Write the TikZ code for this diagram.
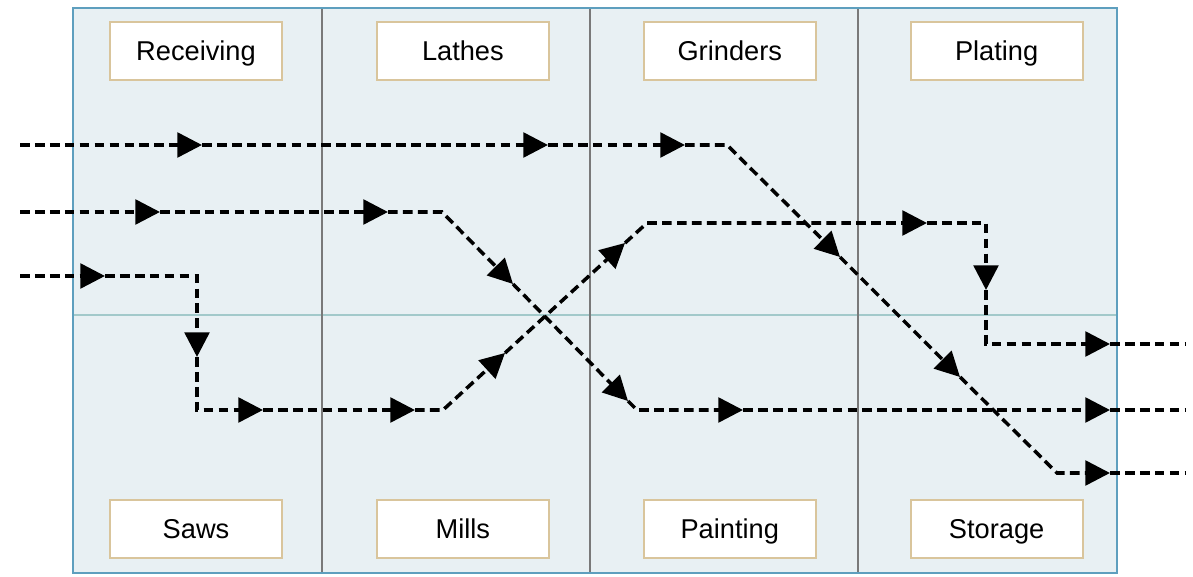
\documentclass[tikz,border=0pt]{standalone}
\usepackage{fontspec}
\setmainfont{Liberation Sans}
\usetikzlibrary{positioning,arrows.meta}
\definecolor{cellbg}{HTML}{E8F0F3}
\definecolor{frameblue}{HTML}{5E9FBE}
\definecolor{splitteal}{HTML}{A2C9CA}
\definecolor{boxtan}{HTML}{D9C59C}
\begin{document}
\begin{tikzpicture}[
  x=0.02cm, y=-0.02cm,
  font=\fontsize{15.5}{18}\selectfont,
  node distance=8.36cm and 1.86cm,
  dept/.style={rectangle, draw=boxtan, line width=1.1pt, fill=white, inner sep=0pt,
               minimum width=3.44cm, minimum height=1.16cm,
               text height=11pt, text depth=0pt},
  cellrule/.style={draw=gray!95!black, line width=0.9pt},
  route/.style={line width=2pt, dash pattern=on 5.5pt off 3pt},
  flow/.style={route, -{Triangle[length=14pt, width=14pt]}}
]
\useasboundingbox (0,0) rectangle (1193,577);
\fill[white] (0,0) rectangle (1193,577);

% Floor area with bays
\fill[cellbg] (73,8) rectangle (1117,573);
\draw[splitteal, line width=1pt] (73,315) -- (1117,315);
\foreach \x in {322,590,858}
  \draw[cellrule] (\x,8) -- (\x,573);
\draw[frameblue, line width=1.1pt] (73,8) rectangle (1117,573);

% Department boxes, top row
\node[dept] (receiving) at (196,51) {Receiving};
\node[dept, right=of receiving] (lathes) {Lathes};
\node[dept, right=of lathes] (grinders) {Grinders};
\node[dept, right=of grinders] (plating) {Plating};

% Department boxes, bottom row
\node[dept, below=of receiving] (saws) {Saws};
\node[dept, below=of lathes] (mills) {Mills};
\node[dept, below=of grinders] (painting) {Painting};
\node[dept, below=of plating] (storage) {Storage};

% Route 1: top line, down to storage
\coordinate (r1in) at (20,145);
\coordinate (r1a) at (202,145);
\coordinate (r1b) at (548,145);
\coordinate (r1c) at (685,145);
\coordinate (r1bend) at (727,145);
\coordinate (r1d) at (840,257);
\coordinate (r1e) at (960,377);
\coordinate (r1low) at (1057,473);
\coordinate (r1f) at (1110,473);
\coordinate (r1out) at (1185,473);

\draw[flow] (r1in) -- (r1a);
\draw[flow] (r1a) -- (r1b);
\draw[flow] (r1b) -- (r1c);
\draw[flow] (r1c) -- (r1bend) -- (r1d);
\draw[flow] (r1d) -- (r1e);
\draw[flow] (r1e) -- (r1low) -- (r1f);
\draw[route] (r1f) -- (r1out);

% Route 2: middle line, down to painting
\coordinate (r2in) at (20,212);
\coordinate (r2a) at (160,212);
\coordinate (r2b) at (388,212);
\coordinate (r2bend) at (442,212);
\coordinate (r2c) at (513,284);
\coordinate (r2d) at (628,401);
\coordinate (r2low) at (637,410);
\coordinate (r2e) at (743,410);
\coordinate (r2f) at (1110,410);
\coordinate (r2out) at (1185,410);

\draw[flow] (r2in) -- (r2a);
\draw[flow] (r2a) -- (r2b);
\draw[flow] (r2b) -- (r2bend) -- (r2c);
\draw[flow] (r2c) -- (r2d);
\draw[flow] (r2d) -- (r2low) -- (r2e);
\draw[flow] (r2e) -- (r2f);
\draw[route] (r2f) -- (r2out);

% Route 3: saws, mills, up to plating
\coordinate (r3in) at (20,276);
\coordinate (r3a) at (105,276);
\coordinate (r3drop) at (197,276);
\coordinate (r3b) at (197,357);
\coordinate (r3low) at (197,410);
\coordinate (r3c) at (263,410);
\coordinate (r3d) at (415,410);
\coordinate (r3bend) at (443,410);
\coordinate (r3e) at (505,353);
\coordinate (r3f) at (625,243);
\coordinate (r3high) at (647,223);
\coordinate (r3g) at (927,223);
\coordinate (r3turn) at (986,223);
\coordinate (r3h) at (986,290);
\coordinate (r3exit) at (986,344);
\coordinate (r3i) at (1110,344);
\coordinate (r3out) at (1185,344);

\draw[flow] (r3in) -- (r3a);
\draw[flow] (r3a) -- (r3drop) -- (r3b);
\draw[flow] (r3b) -- (r3low) -- (r3c);
\draw[flow] (r3c) -- (r3d);
\draw[flow] (r3d) -- (r3bend) -- (r3e);
\draw[flow] (r3e) -- (r3f);
\draw[flow] (r3f) -- (r3high) -- (r3g);
\draw[flow] (r3g) -- (r3turn) -- (r3h);
\draw[flow] (r3h) -- (r3exit) -- (r3i);
\draw[route] (r3i) -- (r3out);

\end{tikzpicture}
\end{document}
